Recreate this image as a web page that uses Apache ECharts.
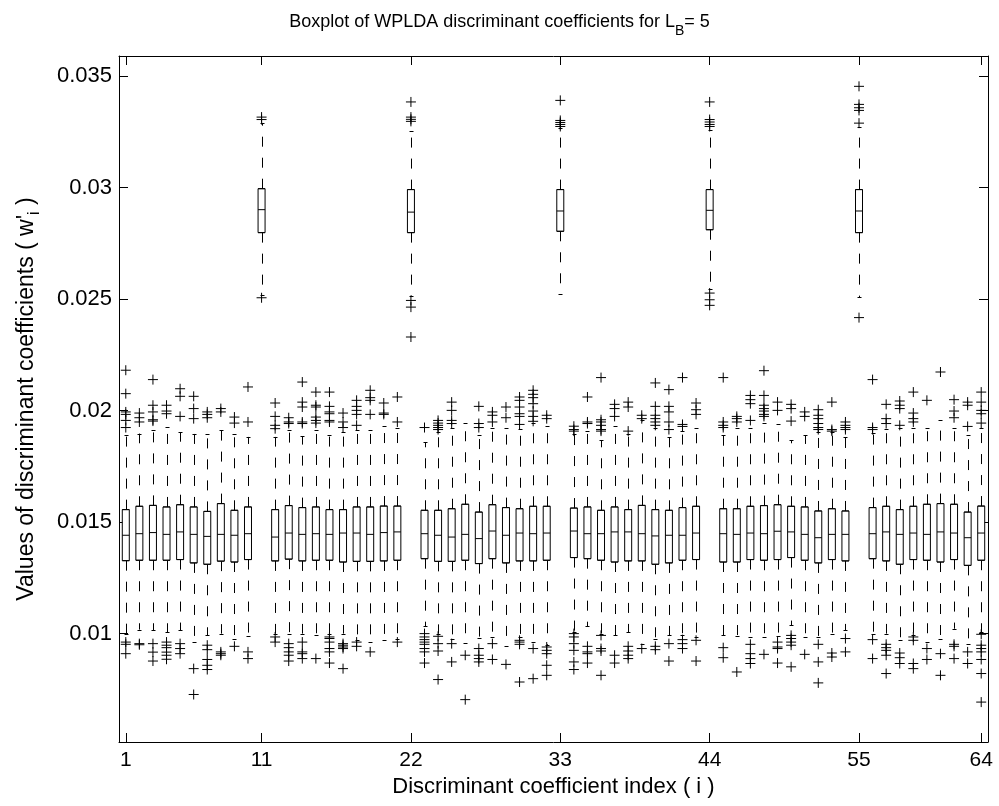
<!DOCTYPE html>
<html>
<head>
<meta charset="utf-8">
<script src="https://cdn.jsdelivr.net/npm/echarts@6/dist/echarts.min.js"></script>
<style>
html,body{margin:0;padding:0;background:#fff;}
#chart{width:999px;height:806px;}
</style>
</head>
<body>
<div id="chart"></div>
<script>
// ---- Data ----
const categories = Array.from({length: 64}, (_, i) => String(i + 1));
const xTickLabels = [1, 11, 22, 33, 44, 55, 64];
const yTickValues = [0.01, 0.015, 0.02, 0.025, 0.03, 0.035];

const lowerWhisker = [
  0.01000, 0.01018, 0.01015, 0.01007, 0.01015, 0.00962, 0.00992, 0.01000, 0.00978, 0.00988,
  0.02520, 0.01000, 0.01000, 0.01000, 0.00992, 0.01000, 0.01000, 0.00970, 0.00962, 0.00973,
  0.00978, 0.02512, 0.01033, 0.01000, 0.00978, 0.00958, 0.00982, 0.00985, 0.00943, 0.00985,
  0.00962, 0.00948, 0.02521, 0.01007, 0.01033, 0.01000, 0.00992, 0.01007, 0.00955, 0.00978,
  0.00992, 0.00992, 0.00985, 0.02547, 0.00992, 0.00988, 0.00985, 0.00985, 0.00988, 0.01037,
  0.00985, 0.00985, 0.01000, 0.01015, 0.02509, 0.01000, 0.01000, 0.00970, 0.00995, 0.00962,
  0.00978, 0.01022, 0.00952, 0.01005
];
const q1 = [
  0.01327, 0.01329, 0.01329, 0.01329, 0.01332, 0.01317, 0.01311, 0.01325, 0.01321, 0.01332,
  0.02798, 0.01326, 0.01334, 0.01326, 0.01329, 0.01329, 0.01321, 0.01324, 0.01324, 0.01326,
  0.01329, 0.02798, 0.01336, 0.01324, 0.01324, 0.01329, 0.01314, 0.01336, 0.01317, 0.01326,
  0.01326, 0.01329, 0.02804, 0.01341, 0.01336, 0.01329, 0.01321, 0.01326, 0.01326, 0.01311,
  0.01317, 0.01329, 0.01332, 0.02811, 0.01321, 0.01321, 0.01332, 0.01329, 0.01332, 0.01341,
  0.01329, 0.01317, 0.01332, 0.01326, 0.02798, 0.01336, 0.01326, 0.01311, 0.01332, 0.01329,
  0.01321, 0.01332, 0.01306, 0.01329
];
const median = [
  0.01441, 0.01448, 0.01453, 0.01445, 0.01456, 0.01445, 0.01436, 0.01445, 0.01441, 0.01448,
  0.02901, 0.01433, 0.01451, 0.01445, 0.01448, 0.01445, 0.01451, 0.01451, 0.01445, 0.01453,
  0.01456, 0.02890, 0.01448, 0.01441, 0.01433, 0.01445, 0.01426, 0.01460, 0.01441, 0.01451,
  0.01448, 0.01451, 0.02895, 0.01460, 0.01448, 0.01448, 0.01456, 0.01456, 0.01448, 0.01438,
  0.01441, 0.01441, 0.01451, 0.02898, 0.01448, 0.01445, 0.01451, 0.01448, 0.01459, 0.01456,
  0.01445, 0.01430, 0.01445, 0.01445, 0.02895, 0.01448, 0.01456, 0.01445, 0.01451, 0.01445,
  0.01456, 0.01451, 0.01430, 0.01451
];
const q3 = [
  0.01556, 0.01571, 0.01575, 0.01568, 0.01578, 0.01568, 0.01548, 0.01583, 0.01553, 0.01568,
  0.02995, 0.01556, 0.01574, 0.01565, 0.01568, 0.01556, 0.01556, 0.01568, 0.01568, 0.01572,
  0.01572, 0.02991, 0.01553, 0.01553, 0.01560, 0.01580, 0.01545, 0.01578, 0.01565, 0.01560,
  0.01571, 0.01571, 0.02991, 0.01563, 0.01568, 0.01553, 0.01568, 0.01556, 0.01575, 0.01556,
  0.01553, 0.01565, 0.01571, 0.02991, 0.01560, 0.01560, 0.01571, 0.01574, 0.01578, 0.01571,
  0.01568, 0.01550, 0.01560, 0.01550, 0.02991, 0.01565, 0.01571, 0.01556, 0.01571, 0.01580,
  0.01583, 0.01580, 0.01545, 0.01572
];
const upperWhisker = [
  0.01889, 0.01897, 0.01912, 0.01926, 0.01904, 0.01897, 0.01897, 0.01912, 0.01897, 0.01882,
  0.03290, 0.01882, 0.01912, 0.01885, 0.01912, 0.01889, 0.01905, 0.01915, 0.01915, 0.01929,
  0.01924, 0.03252, 0.01859, 0.01905, 0.01924, 0.01944, 0.01889, 0.01924, 0.01924, 0.01919,
  0.01944, 0.01929, 0.03265, 0.01897, 0.01910, 0.01867, 0.01929, 0.01895, 0.01956, 0.01924,
  0.01882, 0.01910, 0.01924, 0.03257, 0.01889, 0.01924, 0.01924, 0.01944, 0.01938, 0.01867,
  0.01889, 0.01905, 0.01904, 0.01882, 0.03270, 0.01900, 0.01919, 0.01924, 0.01920, 0.01924,
  0.01956, 0.01924, 0.01889, 0.01920
];
const outliers = [
  [0.02181, 0.02076, 0.01994, 0.01983, 0.01956, 0.01924, 0.00962, 0.00952, 0.00910],
  [0.01989, 0.01968, 0.01949, 0.00955, 0.00950],
  [0.02139, 0.02024, 0.01994, 0.01959, 0.01953, 0.00955, 0.00917, 0.00877],
  [0.02024, 0.01998, 0.01986, 0.00962, 0.00948, 0.00937, 0.00917, 0.00903, 0.00885],
  [0.02098, 0.02064, 0.01974, 0.00955, 0.00933, 0.00910],
  [0.02064, 0.02009, 0.01964, 0.00843, 0.00727],
  [0.01994, 0.01983, 0.01968, 0.00948, 0.00928, 0.00884, 0.00858, 0.00839],
  [0.02009, 0.01994, 0.00918, 0.00910, 0.00903],
  [0.01971, 0.01944, 0.00943],
  [0.02106, 0.01949, 0.00918, 0.00888],
  [0.03316, 0.03305, 0.02506],
  [0.02034, 0.01974, 0.01934, 0.01919, 0.00985, 0.00962],
  [0.01968, 0.01949, 0.01942, 0.00955, 0.00937, 0.00918, 0.00903, 0.00877],
  [0.02128, 0.02038, 0.02016, 0.01949, 0.01942, 0.00962, 0.00918, 0.00910, 0.00888],
  [0.02083, 0.02024, 0.02016, 0.01971, 0.01956, 0.01944, 0.00888],
  [0.02083, 0.02019, 0.01994, 0.01986, 0.01956, 0.01949, 0.00985, 0.00978, 0.00962, 0.00933, 0.00918, 0.00868],
  [0.01989, 0.01949, 0.01924, 0.00955, 0.00948, 0.00940, 0.00933, 0.00843],
  [0.02046, 0.02019, 0.02001, 0.01983, 0.01934, 0.00962, 0.00943],
  [0.02091, 0.02058, 0.02046, 0.01983, 0.00918],
  [0.02034, 0.01989, 0.01983],
  [0.02061, 0.01949, 0.00962],
  [0.03384, 0.03316, 0.03306, 0.03297, 0.02494, 0.02464, 0.02330],
  [0.01924, 0.01000, 0.00985, 0.00973, 0.00962, 0.00952, 0.00933, 0.00918, 0.00868],
  [0.01956, 0.01944, 0.01934, 0.01924, 0.01915, 0.00988, 0.00955, 0.00922, 0.00794],
  [0.02038, 0.02001, 0.01956, 0.01942, 0.00955, 0.00873],
  [0.00903, 0.00704],
  [0.02019, 0.01942, 0.01924, 0.00933, 0.00903, 0.00888, 0.00873],
  [0.01994, 0.01979, 0.01949, 0.00955, 0.00884],
  [0.02016, 0.01968, 0.00862],
  [0.02061, 0.02046, 0.02016, 0.01986, 0.01974, 0.01938, 0.00970, 0.00962, 0.00952, 0.00783],
  [0.02091, 0.02073, 0.02058, 0.02031, 0.01998, 0.01974, 0.01952, 0.00933, 0.00798],
  [0.01979, 0.01964, 0.00940, 0.00925, 0.00910, 0.00858, 0.00813],
  [0.03391, 0.03301, 0.03292, 0.03283, 0.03274],
  [0.01930, 0.01915, 0.01908, 0.01000, 0.00985, 0.00955, 0.00925, 0.00873, 0.00839],
  [0.02061, 0.01949, 0.01942, 0.00943, 0.00918, 0.00910, 0.00868],
  [0.02148, 0.01959, 0.01949, 0.01934, 0.01915, 0.01908, 0.00992, 0.00933, 0.00922, 0.00813],
  [0.02028, 0.02009, 0.01974, 0.00903, 0.00868],
  [0.02038, 0.02016, 0.01908, 0.00943, 0.00922, 0.00903, 0.00888],
  [0.01979, 0.01964, 0.00933],
  [0.02124, 0.02019, 0.01979, 0.01964, 0.01949, 0.01934, 0.00943, 0.00928],
  [0.02094, 0.02019, 0.01994, 0.01949, 0.01915, 0.00955, 0.00877],
  [0.02148, 0.01938, 0.01929, 0.00973, 0.00955, 0.00933],
  [0.02034, 0.02004, 0.01983, 0.00970, 0.00877],
  [0.03384, 0.03305, 0.03294, 0.03283, 0.03274, 0.02527, 0.02497, 0.02472],
  [0.02148, 0.01949, 0.01934, 0.01924, 0.00937, 0.00892],
  [0.01974, 0.01964, 0.01949, 0.00828],
  [0.02068, 0.02049, 0.02031, 0.01956, 0.00952, 0.00910, 0.00888, 0.00866],
  [0.02179, 0.02068, 0.02024, 0.02009, 0.01998, 0.01983, 0.01974, 0.00907],
  [0.02038, 0.02001, 0.00962, 0.00940, 0.00933, 0.00868],
  [0.02028, 0.02009, 0.01953, 0.00992, 0.00978, 0.00962, 0.00948, 0.00851],
  [0.01994, 0.01974, 0.00907],
  [0.02004, 0.01979, 0.01964, 0.01942, 0.01924, 0.01915, 0.00952, 0.00873, 0.00779],
  [0.02038, 0.01915, 0.01908, 0.00913, 0.00895],
  [0.01949, 0.01934, 0.01924, 0.01915, 0.00978, 0.00918],
  [0.03454, 0.03373, 0.03358, 0.03346, 0.03289, 0.02417],
  [0.02139, 0.01924, 0.01915, 0.00973, 0.00888],
  [0.02028, 0.01964, 0.01942, 0.00952, 0.00937, 0.00925, 0.00903, 0.00821],
  [0.02043, 0.02024, 0.02009, 0.01934, 0.00913, 0.00892, 0.00866],
  [0.02083, 0.01989, 0.01964, 0.01949, 0.00985, 0.00970, 0.00866, 0.00843],
  [0.02046, 0.00933, 0.00884],
  [0.02173, 0.00910, 0.00813],
  [0.02049, 0.01998, 0.01968, 0.00952, 0.00943, 0.00888],
  [0.02038, 0.02024, 0.01929, 0.00918, 0.00866],
  [0.02083, 0.02038, 0.02001, 0.01986, 0.01944, 0.00997, 0.00948, 0.00933, 0.00918, 0.00884, 0.00821, 0.00693]
];

// ---- Build series data ----
const boxData = categories.map((c, i) => [q1[i], q1[i], median[i], q3[i], q3[i]]);
const whiskerData = categories.map((c, i) => [i, lowerWhisker[i], q1[i], q3[i], upperWhisker[i]]);
const outlierData = [];
outliers.forEach((list, i) => list.forEach(v => outlierData.push([i, v])));

const FONT = '"Liberation Sans", Arial, Helvetica, sans-serif';
const tickIdx = xTickLabels.map(v => v - 1);
const showTick = (idx) => tickIdx.indexOf(idx) >= 0;
const fmtY = v => String(parseFloat(Number(v).toFixed(4)));

const chart = echarts.init(document.getElementById('chart'), null, {renderer: 'canvas'});

const option = {
  animation: false,
  backgroundColor: '#fff',
  title: {
    text: 'Boxplot of WPLDA discriminant coefficients for L{sub|B}= 5',
    left: 'center',
    top: 1,
    textStyle: {
      fontFamily: FONT, fontSize: 18, fontWeight: 'normal', color: '#000',
      rich: {sub: {fontFamily: FONT, fontSize: 14, color: '#000', padding: [18, 0, 0, 0]}}
    }
  },
  grid: {left: 119, right: 11, top: 56, bottom: 64, containLabel: false},
  xAxis: [{
    type: 'category',
    data: categories,
    boundaryGap: true,
    position: 'bottom',
    name: 'Discriminant coefficient index ( i )',
    nameLocation: 'middle',
    nameGap: 30,
    nameTextStyle: {fontFamily: FONT, fontSize: 22, color: '#000'},
    axisLine: {show: true, onZero: false, lineStyle: {color: '#000', width: 1}},
    axisTick: {show: true, inside: true, length: 9, alignWithLabel: true, interval: showTick, lineStyle: {color: '#000'}},
    axisLabel: {show: true, interval: showTick, margin: 8, fontFamily: FONT, fontSize: 21, color: '#000'},
    splitLine: {show: false}
  }, {
    type: 'category',
    data: categories,
    boundaryGap: true,
    position: 'top',
    axisLine: {show: true, onZero: false, lineStyle: {color: '#000', width: 1}},
    axisTick: {show: true, inside: true, length: 9, alignWithLabel: true, interval: showTick, lineStyle: {color: '#000'}},
    axisLabel: {show: false},
    splitLine: {show: false}
  }],
  yAxis: [{
    type: 'value',
    min: 0.00514,
    max: 0.0359,
    position: 'left',
    name: "Values of discriminant coefficients ( w'{sub|i} )",
    nameLocation: 'middle',
    nameGap: 76,
    nameTextStyle: {
      fontFamily: FONT, fontSize: 23, color: '#000',
      rich: {sub: {fontFamily: FONT, fontSize: 16, color: '#000', padding: [16, 0, 0, 0]}}
    },
    axisLine: {show: true, onZero: false, lineStyle: {color: '#000', width: 1}},
    axisTick: {show: true, inside: true, length: 9, customValues: yTickValues, lineStyle: {color: '#000'}},
    axisLabel: {show: true, customValues: yTickValues, margin: 7, formatter: fmtY, fontFamily: FONT, fontSize: 22, color: '#000'},
    splitLine: {show: false}
  }, {
    type: 'value',
    min: 0.00514,
    max: 0.0359,
    position: 'right',
    axisLine: {show: true, onZero: false, lineStyle: {color: '#000', width: 1}},
    axisTick: {show: true, inside: true, length: 9, customValues: yTickValues, lineStyle: {color: '#000'}},
    axisLabel: {show: false},
    splitLine: {show: false}
  }],
  series: [{
    type: 'custom',
    name: 'whiskers',
    xAxisIndex: 0, yAxisIndex: 0,
    data: whiskerData,
    encode: {x: 0, y: [1, 2, 3, 4]},
    silent: true,
    z: 2,
    renderItem: function (params, api) {
      const x = api.value(0);
      const pLw = api.coord([x, api.value(1)]);
      const pQ1 = api.coord([x, api.value(2)]);
      const pQ3 = api.coord([x, api.value(3)]);
      const pUw = api.coord([x, api.value(4)]);
      const cx = Math.round(pLw[0]) + 0.5;
      const dash = {stroke: '#000', lineWidth: 1, lineDash: [10, 11], fill: null};
      const cap = {stroke: '#000', lineWidth: 1, fill: null};
      return {
        type: 'group',
        children: [
          {type: 'line', shape: {x1: cx, y1: pQ3[1], x2: cx, y2: pUw[1]}, style: dash},
          {type: 'line', shape: {x1: cx, y1: pQ1[1], x2: cx, y2: pLw[1]}, style: dash},
          {type: 'line', shape: {x1: cx - 2, y1: Math.round(pUw[1]) + 0.5, x2: cx + 2, y2: Math.round(pUw[1]) + 0.5}, style: cap},
          {type: 'line', shape: {x1: cx - 2, y1: Math.round(pLw[1]) + 0.5, x2: cx + 2, y2: Math.round(pLw[1]) + 0.5}, style: cap}
        ]
      };
    }
  }, {
    type: 'boxplot',
    name: 'boxes',
    xAxisIndex: 0, yAxisIndex: 0,
    data: boxData,
    boxWidth: [7, 7],
    z: 3,
    itemStyle: {color: '#fff', borderColor: '#000', borderWidth: 1},
    emphasis: {disabled: true}
  }, {
    type: 'scatter',
    name: 'outliers',
    xAxisIndex: 0, yAxisIndex: 0,
    data: outlierData,
    symbol: 'path://M0,5L10,5M5,0L5,10',
    symbolSize: 10,
    z: 4,
    itemStyle: {color: 'none', borderColor: '#000', borderWidth: 1, opacity: 1},
    emphasis: {disabled: true}
  }]
};
chart.setOption(option);
</script>
</body>
</html>
